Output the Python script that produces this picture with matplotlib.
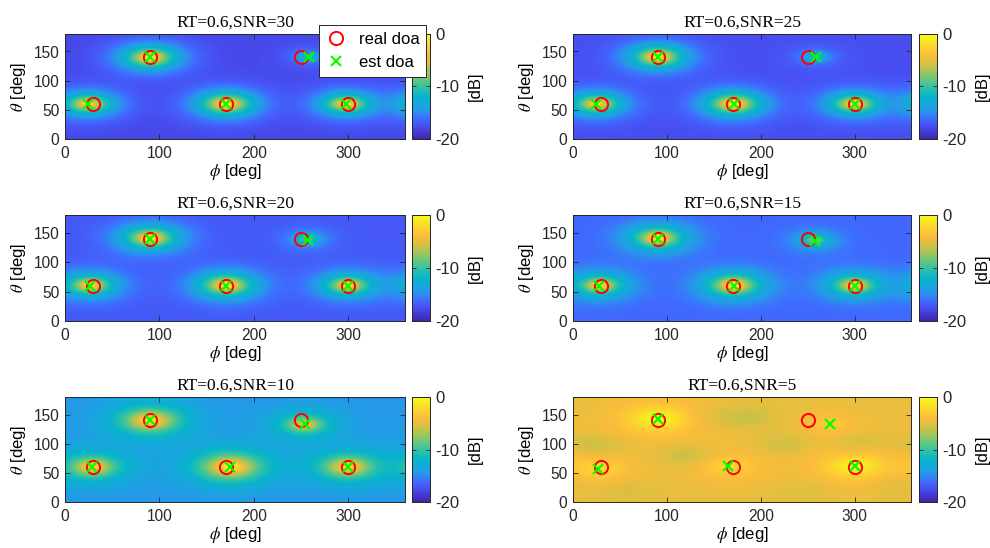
import numpy as np
import matplotlib
matplotlib.use('Agg')
import matplotlib.pyplot as plt
from matplotlib.colors import LinearSegmentedColormap

# ---------------- data ----------------
titles = ['RT=0.6,SNR=30', 'RT=0.6,SNR=25', 'RT=0.6,SNR=20',
          'RT=0.6,SNR=15', 'RT=0.6,SNR=10', 'RT=0.6,SNR=5']
real_phi = [30, 90, 170, 250, 300]
real_theta = [60, 140, 60, 140, 60]
est_phi = [[24, 90, 171, 258, 298],
           [25, 90, 171, 259, 300],
           [26, 90, 171, 257, 300],
           [28, 90, 171, 258, 300],
           [29, 90, 175, 254, 300],
           [27, 90, 165, 274, 300]]
est_theta = [[60, 140, 60, 141, 60],
             [60, 141, 60, 141, 60],
             [60, 140, 60, 138, 60],
             [60, 140, 60, 136, 60],
             [60, 140, 60, 133, 60],
             [56, 143, 61, 133, 61]]
peak_amp = [[0.7, 0.9, 1.0, 0.07, 0.7],
            [0.7, 0.9, 1.0, 0.08, 0.7],
            [0.7, 0.9, 1.0, 0.12, 0.7],
            [0.7, 0.9, 1.0, 0.18, 0.7],
            [0.55, 0.8, 1.0, 0.35, 0.65],
            [0.25, 0.6, 0.25, 0.15, 0.5]]
floor_db = [-17.8, -17.5, -17.0, -16.3, -14.5, -5.8]
# extra background blobs for SNR=5 (phi, theta, relative amplitude)
blob_phi = [120, 225, 305, 10, 190, 345, 55, 150, 250, 40]
blob_theta = [80, 100, 102, 100, 145, 30, 20, 145, 20, 95]
blob_amp = [-0.10, -0.08, -0.08, -0.07, -0.07, -0.06, -0.05, -0.05, -0.04, -0.05]

cb_ticks = [0, -10, -20]
x_ticks = [0, 100, 200, 300]
y_ticks = [0, 50, 100, 150]

# ---------------- colormap (parula) ----------------
_par = [(0.2422, 0.1504, 0.6603), (0.2670, 0.2260, 0.8320), (0.2810, 0.3228, 0.9579),
        (0.2440, 0.4358, 0.9988), (0.1540, 0.5902, 0.9218), (0.0920, 0.6570, 0.8630),
        (0.0290, 0.7040, 0.7980), (0.1300, 0.7470, 0.6950), (0.3000, 0.7700, 0.5700),
        (0.5000, 0.7800, 0.4300), (0.7000, 0.7680, 0.3200), (0.8700, 0.7500, 0.2500),
        (0.9800, 0.7400, 0.2350), (0.9950, 0.8100, 0.2000), (0.9700, 0.9000, 0.1400),
        (0.9769, 0.9839, 0.0805)]
parula = LinearSegmentedColormap.from_list('parula', _par, N=256)

plt.rcParams['font.family'] = ['Liberation Sans', 'DejaVu Sans']
plt.rcParams['mathtext.fontset'] = 'stix'
plt.rcParams['axes.unicode_minus'] = False

phi = np.arange(0, 361, 1.0)
theta = np.arange(0, 181, 1.0)
PH, TH = np.meshgrid(phi, theta)


def spectrum(i):
    P = np.full(PH.shape, 10 ** (floor_db[i] / 10.0))
    for p, t, a in zip(est_phi[i], est_theta[i], peak_amp[i]):
        d = np.abs(PH - p)
        d = np.minimum(d, 360 - d)
        if i < 4:
            r2 = (d / 7.0) ** 2 + ((TH - t) / 4.8) ** 2
            P += a / (1 + r2) * np.exp(-r2 / 60.0)
        elif i == 4:
            r2 = (d / 10.0) ** 2 + ((TH - t) / 7.0) ** 2
            P += a / (1 + r2) * np.exp(-r2 / 50.0)
        else:
            r2 = (d / 24.0) ** 2 + ((TH - t) / 16.0) ** 2
            P += a / (1 + r2) ** 1.2
    if i == 5:
        for p, t, a in zip(blob_phi, blob_theta, blob_amp):
            d = np.abs(PH - p)
            d = np.minimum(d, 360 - d)
            P += a * np.exp(-0.5 * ((d / 22.0) ** 2 + ((TH - t) / 14.0) ** 2))
        P = np.maximum(P, 1e-3)
    db = 10 * np.log10(P / P.max())
    return np.clip(db, -20, 0)


fig = plt.figure(figsize=(9.9, 5.48), dpi=100)
W, H = 990.0, 548.0
rows_px = [(34, 139), (215, 321), (397, 502)]
cols_px = [(65, 405, 412, 430), (573, 911, 919, 937)]

for i in range(6):
    r, c = divmod(i, 2)
    top, bot = rows_px[r]
    x0, x1, cb0, cb1 = cols_px[c]
    ax = fig.add_axes([x0 / W, 1 - bot / H, (x1 - x0) / W, (bot - top) / H])
    cax = fig.add_axes([cb0 / W, 1 - bot / H, (cb1 - cb0) / W, (bot - top) / H])
    im = ax.imshow(spectrum(i), origin='lower', extent=[0, 360, 0, 180], aspect='auto',
                   cmap=parula, vmin=-20, vmax=0, interpolation='bilinear')
    h1, = ax.plot(real_phi, real_theta, 'o', ms=9.5, mfc='none', mec='#ff0000', mew=1.4,
                  linestyle='none', label='real doa')
    h2, = ax.plot(est_phi[i], est_theta[i], 'x', ms=7, mec='#00ff00', mew=1.5,
                  linestyle='none', label='est doa')
    ax.set_xlim(0, 360)
    ax.set_ylim(0, 180)
    ax.set_xticks(x_ticks)
    ax.set_yticks(y_ticks)
    ax.tick_params(direction='in', top=True, right=True, length=3.5, width=0.6,
                   labelsize=11.2, colors='#262626')
    ax.tick_params(axis='x', pad=5)
    ax.tick_params(axis='y', pad=4)
    for s in ax.spines.values():
        s.set_linewidth(0.7)
        s.set_color('#262626')
    ax.set_title(titles[i], fontsize=12.5, family='Liberation Serif', pad=5)
    ax.set_xlabel(r'$\phi$ [deg]', fontsize=12, labelpad=1)
    ax.set_ylabel(r'$\theta$ [deg]', fontsize=12, labelpad=4)
    cb = fig.colorbar(im, cax=cax)
    cb.set_ticks(cb_ticks)
    cax.tick_params(direction='in', length=3, width=0.6, labelsize=12, colors='#262626',
                    left=True, pad=4)
    cb.outline.set_linewidth(0.7)
    cb.outline.set_edgecolor('#262626')
    cb.set_label('[dB]', fontsize=12, labelpad=6)
    if i == 0:
        leg = fig.legend(handles=[h1, h2], loc='upper right',
                         bbox_to_anchor=(426 / W, 1 - 25 / H), fontsize=12,
                         frameon=True, fancybox=False, edgecolor='#262626',
                         framealpha=1, borderpad=0.4, handletextpad=0.7,
                         handlelength=1.3, labelspacing=0.5, borderaxespad=0)
        leg.get_frame().set_linewidth(0.7)

fig.savefig('out.png', dpi=100)
